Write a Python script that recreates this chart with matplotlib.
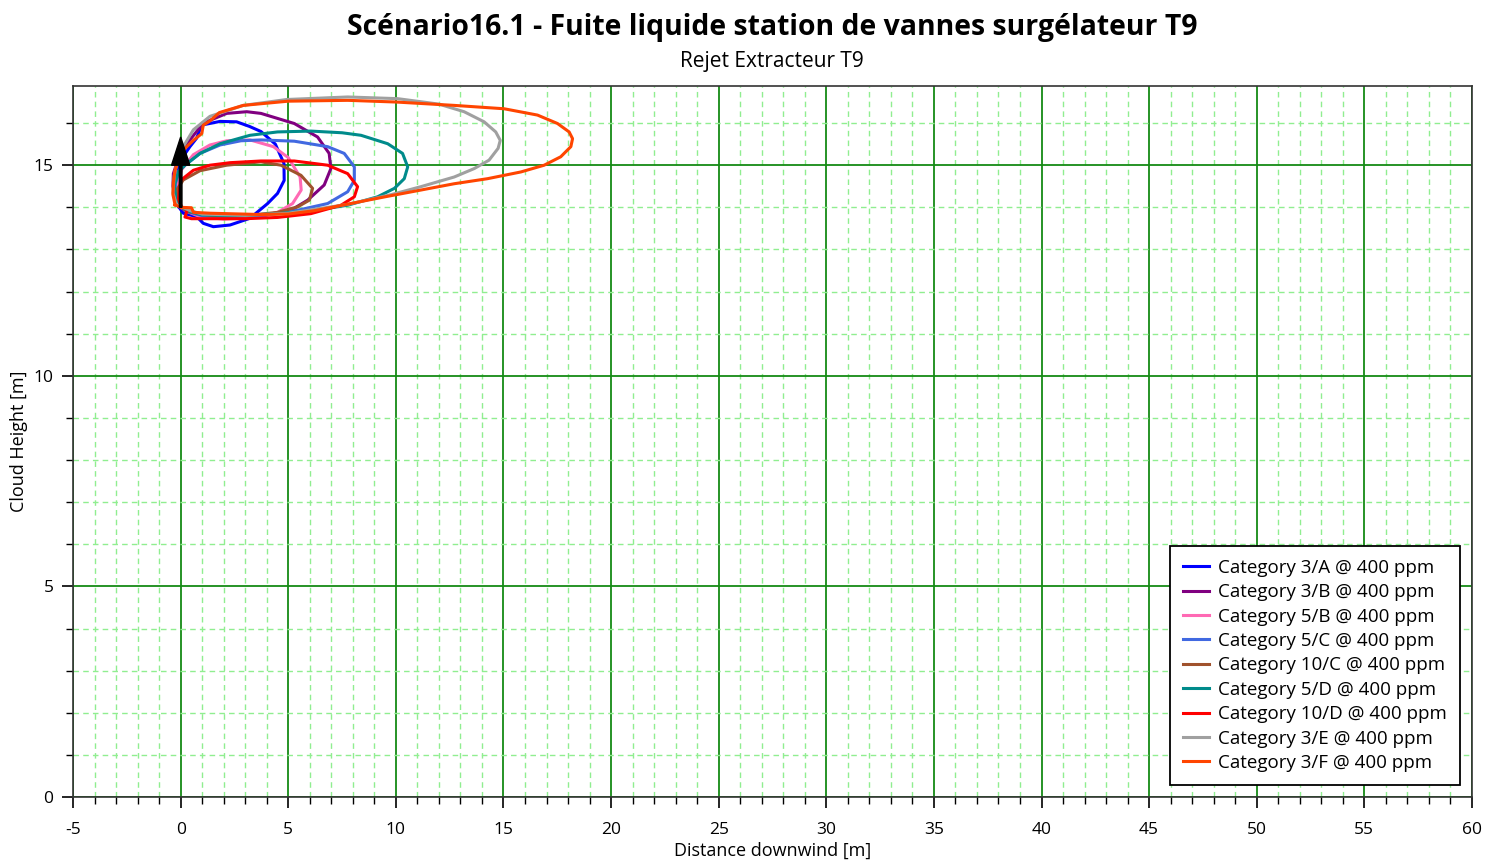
"""Scenario 16.1 - cloud height vs distance downwind, 400 ppm contours."""

import matplotlib
matplotlib.use("Agg")
import matplotlib.pyplot as plt
from matplotlib.ticker import MultipleLocator

plt.rcParams['font.family'] = ['Open Sans', 'DejaVu Sans']
plt.rcParams['axes.unicode_minus'] = False

# contour outlines (x = distance [m], y = height [m])
x_3a = [-0.10, -0.30, -0.20, -0.03, 0.43, 0.74, 0.90, 1.05, 1.83, 2.60, 3.20, 3.73, 4.40, 4.80, 4.81, 4.50, 4.04, 3.22, 2.29, 1.52, 1.05, 0.74, 0.12, -0.10]
y_3a = [14.02, 14.41, 14.80, 15.10, 15.44, 15.64, 15.85, 15.96, 16.04, 16.03, 15.92, 15.80, 15.50, 15.04, 14.64, 14.33, 14.09, 13.74, 13.58, 13.54, 13.62, 13.78, 13.86, 14.02]

x_3b = [-0.15, -0.36, -0.34, -0.03, 0.43, 1.05, 2.14, 3.07, 3.73, 5.28, 6.36, 6.90, 6.98, 6.67, 5.90, 5.12, 3.50, 2.00, 0.80, 0.30, -0.15]
y_3b = [14.05, 14.50, 14.80, 15.28, 15.60, 16.00, 16.23, 16.27, 16.23, 15.99, 15.67, 15.28, 14.92, 14.53, 14.17, 13.93, 13.78, 13.76, 13.80, 13.90, 14.05]

x_5b = [-0.10, -0.20, 0.05, 0.59, 1.36, 2.14, 3.22, 4.31, 5.00, 5.55, 5.60, 5.20, 4.50, 3.50, 2.00, 0.90, 0.30, -0.10]
y_5b = [14.05, 14.50, 14.90, 15.25, 15.48, 15.58, 15.60, 15.44, 15.18, 14.72, 14.41, 14.09, 13.88, 13.76, 13.72, 13.78, 13.90, 14.05]

x_5c = [-0.10, -0.25, -0.10, 0.20, 0.90, 1.83, 2.80, 3.73, 5.28, 6.83, 7.60, 8.07, 8.07, 7.76, 6.83, 5.43, 4.00, 2.50, 1.00, 0.30, -0.10]
y_5c = [14.05, 14.55, 14.85, 15.00, 15.28, 15.48, 15.58, 15.60, 15.57, 15.44, 15.28, 14.96, 14.64, 14.37, 14.09, 13.93, 13.82, 13.78, 13.80, 13.90, 14.05]

x_10c = [-0.10, -0.20, 0.12, 0.90, 2.14, 3.73, 4.66, 5.59, 6.13, 5.98, 5.43, 4.50, 3.00, 1.50, 0.30, -0.10]
y_10c = [14.05, 14.40, 14.65, 14.87, 15.00, 15.08, 15.00, 14.76, 14.45, 14.17, 14.01, 13.88, 13.80, 13.80, 13.90, 14.05]

x_5d = [-0.15, -0.30, -0.10, 0.20, 0.90, 1.83, 3.22, 4.50, 6.05, 7.50, 8.38, 9.62, 10.31, 10.55, 10.39, 9.93, 9.15, 7.76, 6.21, 4.50, 2.50, 1.00, 0.45, -0.15]
y_5d = [14.05, 14.50, 14.85, 15.00, 15.28, 15.51, 15.71, 15.79, 15.81, 15.77, 15.71, 15.51, 15.28, 14.96, 14.68, 14.45, 14.25, 14.05, 13.93, 13.85, 13.80, 13.82, 13.90, 14.05]

x_10d = [0.05, -0.10, -0.05, 0.00, 0.59, 1.36, 2.30, 3.73, 5.28, 6.83, 7.76, 8.22, 8.07, 7.45, 6.05, 4.50, 3.00, 1.50, 0.50, 0.20, 0.28, 0.28, 0.05]
y_10d = [14.00, 14.20, 14.45, 14.64, 14.88, 15.00, 15.06, 15.10, 15.10, 15.00, 14.80, 14.49, 14.25, 14.05, 13.85, 13.76, 13.73, 13.73, 13.73, 13.77, 13.90, 13.98, 14.00]

x_3e = [-0.19, -0.36, -0.30, -0.15, 0.12, 0.59, 1.36, 2.91, 4.93, 7.76, 10.08, 12.00, 13.17, 14.10, 14.64, 14.85, 14.75, 14.33, 13.64, 12.71, 11.16, 9.77, 7.76, 5.00, 3.00, 1.00, 0.45, -0.19]
y_3e = [14.06, 14.34, 14.75, 15.10, 15.44, 15.84, 16.16, 16.42, 16.56, 16.62, 16.58, 16.45, 16.27, 16.03, 15.79, 15.59, 15.40, 15.12, 14.92, 14.72, 14.49, 14.30, 14.07, 13.86, 13.81, 13.84, 13.92, 14.06]

x_3f = [-0.26, -0.36, -0.34, -0.26, -0.05, 0.12, 0.59, 0.98, 1.05, 1.36, 1.80, 2.91, 5.00, 7.76, 10.00, 12.71, 15.03, 16.58, 17.51, 18.05, 18.21, 18.13, 17.66, 16.89, 15.81, 14.26, 12.71, 11.16, 9.50, 8.00, 6.21, 5.00, 3.69, 1.36, 0.60, 0.50, 0.00, -0.26]
y_3f = [14.06, 14.30, 14.60, 14.88, 15.20, 15.36, 15.59, 15.75, 15.95, 16.05, 16.25, 16.42, 16.52, 16.54, 16.50, 16.42, 16.34, 16.19, 15.99, 15.79, 15.63, 15.44, 15.20, 15.00, 14.84, 14.68, 14.56, 14.41, 14.25, 14.10, 13.92, 13.84, 13.83, 13.86, 13.88, 13.99, 14.00, 14.06]

labels = ['Category 3/A @ 400 ppm', 'Category 3/B @ 400 ppm', 'Category 5/B @ 400 ppm',
          'Category 5/C @ 400 ppm', 'Category 10/C @ 400 ppm', 'Category 5/D @ 400 ppm',
          'Category 10/D @ 400 ppm', 'Category 3/E @ 400 ppm', 'Category 3/F @ 400 ppm']
xs = [x_3a, x_3b, x_5b, x_5c, x_10c, x_5d, x_10d, x_3e, x_3f]
ys = [y_3a, y_3b, y_5b, y_5c, y_10c, y_5d, y_10d, y_3e, y_3f]
colors = ['#0000FF', '#800080', '#FF69B4', '#4169E1', '#A0522D',
          '#008B8B', '#FF0000', '#A0A0A0', '#FF4500']

# release point and direction
release_x, release_y, release_dy = 0.0, 14.0, 1.67

fig = plt.figure(figsize=(14.85, 8.61), dpi=100)
ax = fig.add_axes([0.0492, 0.0743, 0.9420, 0.8258])

for x, y, c, lab in zip(xs, ys, colors, labels):
    ax.plot(x, y, color=c, lw=2.2, label=lab, solid_joinstyle='round')

ax.arrow(release_x, release_y, 0, release_dy, width=0.12, head_width=0.85,
         head_length=0.67, length_includes_head=True, color='black', zorder=5)

ax.set_xlim(-5, 60)
ax.set_ylim(0, 16.88)
ax.xaxis.set_major_locator(MultipleLocator(5))
ax.xaxis.set_minor_locator(MultipleLocator(1))
ax.yaxis.set_major_locator(MultipleLocator(5))
ax.yaxis.set_minor_locator(MultipleLocator(1))

ax.grid(which='minor', color='#90EE90', linestyle=(0, (4, 3)), lw=1.0)
ax.grid(which='major', color='#158A15', linestyle='-', lw=1.3)
ax.set_axisbelow(True)

ax.tick_params(which='major', direction='out', length=8, width=1.2, labelsize=12.5, colors='black')
ax.tick_params(axis='x', which='major', pad=10)
ax.tick_params(axis='y', which='major', pad=6)
ax.tick_params(which='minor', direction='out', length=5, width=1.0)
for sp in ax.spines.values():
    sp.set_color('#333333')
    sp.set_linewidth(1.2)

ax.set_xlabel('Distance downwind [m]', fontsize=13, labelpad=3)
ax.set_ylabel('Cloud Height [m]', fontsize=13, labelpad=4)

fig.text(0.52, 0.968, 'Scénario16.1 - Fuite liquide station de vannes surgélateur T9',
         ha='center', va='center', fontsize=20.4, fontweight='bold')
fig.text(0.52, 0.929, 'Rejet Extracteur T9', ha='center', va='center', fontsize=15)

leg = ax.legend(loc='lower right', bbox_to_anchor=(0.9914, 0.0169), borderaxespad=0,
                fontsize=13.5, frameon=True, fancybox=False, handlelength=1.4,
                handletextpad=0.45, labelspacing=0.34, borderpad=0.7)
leg.get_frame().set_edgecolor('black')
leg.get_frame().set_linewidth(1.3)
leg.get_frame().set_alpha(1)

fig.savefig('out.png', dpi=100)
